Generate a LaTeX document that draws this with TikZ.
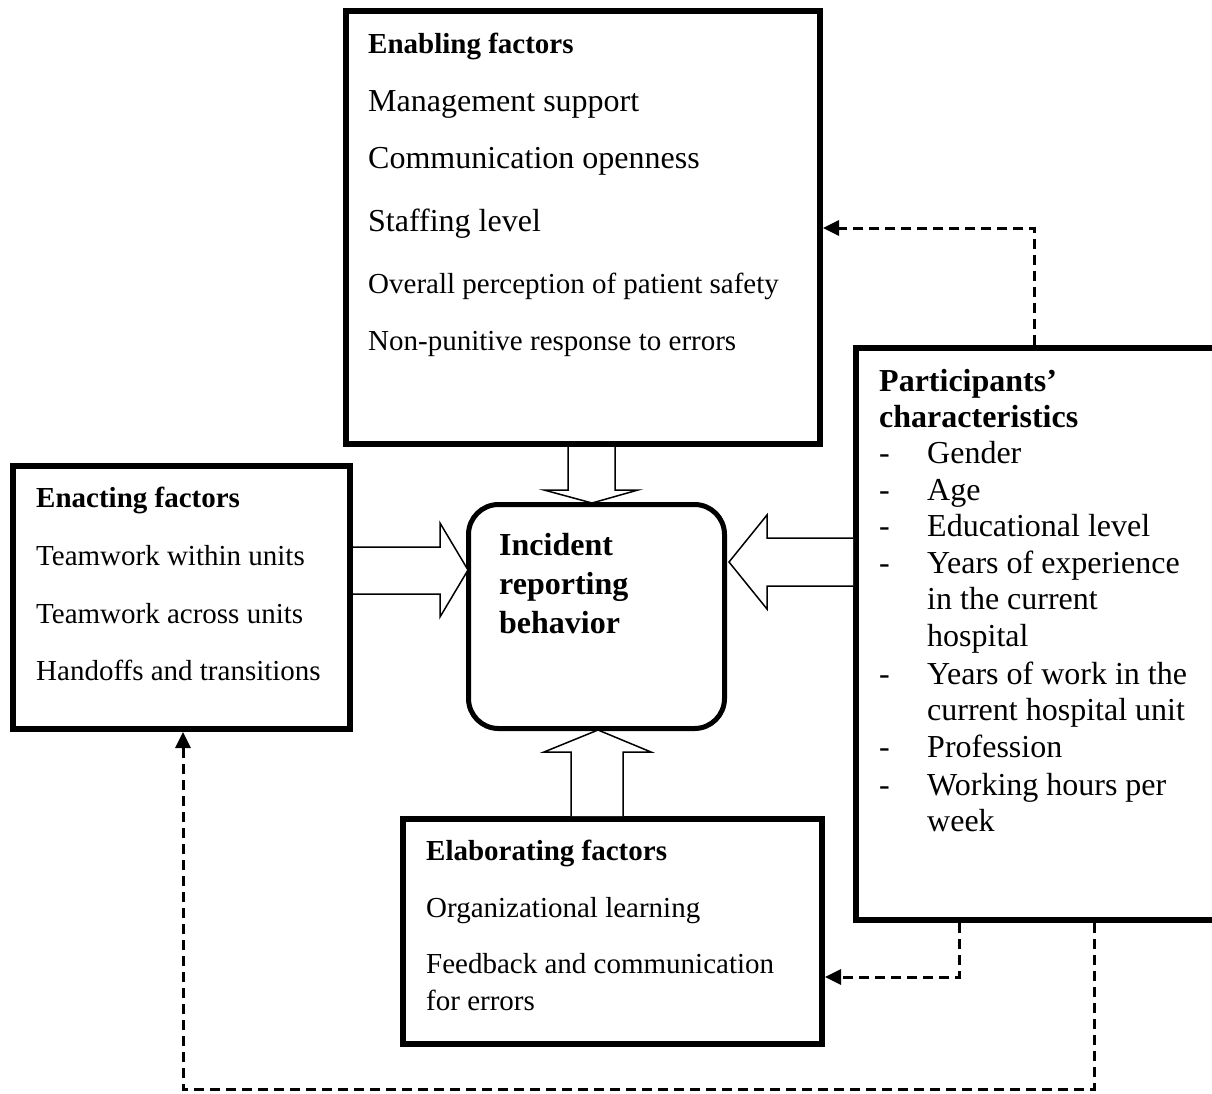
\documentclass[tikz,border=0pt]{standalone}
\usepackage{fontspec}
\setmainfont{Liberation Serif}
\usetikzlibrary{arrows.meta,calc}
\begin{document}
\begin{tikzpicture}[x=1pt,y=-1pt,
  box/.style={draw, line width=6pt, outer sep=3pt, inner sep=0pt, anchor=north west, fill=white},
  hollow/.style={draw, line width=1.5pt, fill=white, line join=miter},
  dasharr/.style={line width=3pt, dash pattern=on 10pt off 6pt, -{Triangle[length=16pt,width=15pt]}},
  hd/.style={anchor=base west, inner sep=0pt, font=\fontsize{29}{34}\selectfont\bfseries},
  hdl/.style={anchor=base west, inner sep=0pt, font=\fontsize{32}{38}\selectfont\bfseries},
  big/.style={anchor=base west, inner sep=0pt, font=\fontsize{32}{38}\selectfont},
  small/.style={anchor=base west, inner sep=0pt, font=\fontsize{29}{34}\selectfont}]
\useasboundingbox (0,0) rectangle (1212,1093);
\fill[white] (0,0) rectangle (1212,1093);

% boxes
\node[box, minimum width=474pt, minimum height=433pt] (enab) at (343,8) {};
\node[box, minimum width=337pt, minimum height=263pt] (enact) at (10,463) {};
\node[box, minimum width=359pt, minimum height=572pt] (part) at (853,345) {};
\node[box, minimum width=419pt, minimum height=225pt] (elab) at (400,816) {};
\node[box, line width=5pt, outer sep=2.5pt, rounded corners=30pt, minimum width=256pt, minimum height=224pt] (irb) at (466,502) {};

% hollow block arrows
\draw[hollow] (568,447) -- (568,490) -- (544,490) -- (592,503) -- (638,490) -- (615,490) -- (615,447);
\draw[hollow] (353,547) -- (440,547) -- (440,523) -- (468,570) -- (440,617) -- (440,594) -- (353,594);
\draw[hollow] (853,538) -- (767,538) -- (767,515) -- (729,562) -- (767,609) -- (767,586) -- (853,586);
\draw[hollow] (571,816) -- (571,752) -- (544,752) -- (598,730) -- (651,752) -- (623,752) -- (623,816);

% dashed connectors
\draw[dasharr] (part.north -| 1034,0) |- (enab.east |- 0,228);
\draw[dasharr] (part.south -| 959,0) |- (elab.east |- 0,977);
\coordinate (bend) at (1094,1089);
\draw[dasharr] (part.south -| bend) -- (bend) -| (enact.south -| 183,0);

% enabling
\node[hd] (t1) at (368,53) {Enabling factors};
\node[big] (t2) at (368,111) {Management support};
\node[big] (t3) at (368,168) {Communication openness};
\node[big] (t4) at (368,231) {Staffing level};
\node[small] (t5) at (368,293) {Overall perception of patient safety};
\node[small] (t6) at (368,350) {Non-punitive response to errors};

% enacting
\node[hd] (e1) at (36,507) {Enacting factors};
\node[small] (e2) at (36,565) {Teamwork within units};
\node[small] (e3) at (36,623) {Teamwork across units};
\node[small] (e4) at (36,680) {Handoffs and transitions};

% central
\node[hdl] (c1) at (499,555) {Incident};
\node[hdl] (c2) at (499,594) {reporting};
\node[hdl] (c3) at (499,633) {behavior};

% participants
\node[hdl] (p1) at (879,391) {Participants’};
\node[hdl] (p2) at (879,427) {characteristics};
\foreach \y/\t [count=\i] in {463/Gender, 500/Age, 536/Educational level, 573/Years of experience, 684/Years of work in the, 757/Profession, 795/Working hours per}{
  \node[big] (pd\i) at (879,\y) {-};
  \node[big] (pi\i) at (927,\y) {\t};
}
\node[big] (pc1) at (927,609) {in the current};
\node[big] (pc2) at (927,646) {hospital};
\node[big] (pc3) at (927,720) {current hospital unit};
\node[big] (pc4) at (927,831) {week};

% elaborating
\node[hd] (l1) at (426,860) {Elaborating factors};
\node[small] (l2) at (426,917) {Organizational learning};
\node[small] (l3) at (426,973) {Feedback and communication};
\node[small] (l4) at (426,1010) {for errors};
\end{tikzpicture}
\end{document}
